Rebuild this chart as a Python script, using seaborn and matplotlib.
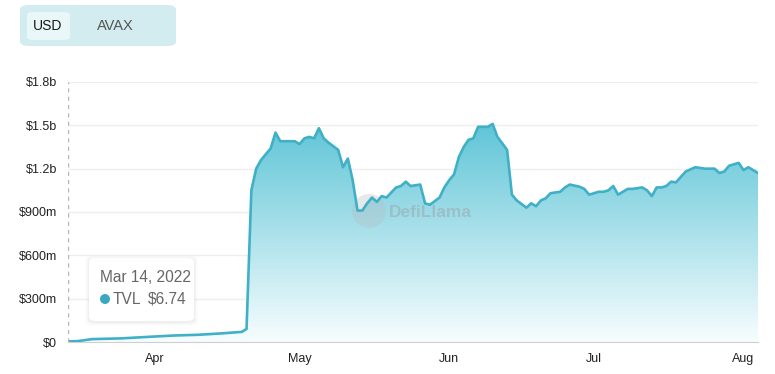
import numpy as np
import pandas as pd
import matplotlib
matplotlib.use("Agg")
import matplotlib.pyplot as plt
import matplotlib.dates as mdates
from matplotlib.patches import FancyBboxPatch, Ellipse
from matplotlib.colors import LinearSegmentedColormap
import seaborn as sns

# ---- data (TVL in billions USD) ----
dates = ["2022-03-14", "2022-03-16", "2022-03-19", "2022-03-25", "2022-04-01", "2022-04-05",
         "2022-04-10", "2022-04-15", "2022-04-19", "2022-04-20", "2022-04-21", "2022-04-22",
         "2022-04-23", "2022-04-25", "2022-04-26", "2022-04-27", "2022-04-30", "2022-05-01",
         "2022-05-02", "2022-05-03", "2022-05-04", "2022-05-05", "2022-05-06", "2022-05-07",
         "2022-05-09", "2022-05-10", "2022-05-11", "2022-05-12", "2022-05-13", "2022-05-14",
         "2022-05-15", "2022-05-16", "2022-05-17", "2022-05-18", "2022-05-19", "2022-05-21",
         "2022-05-22", "2022-05-23", "2022-05-24", "2022-05-26", "2022-05-27", "2022-05-28",
         "2022-05-30", "2022-05-31", "2022-06-01", "2022-06-02", "2022-06-03", "2022-06-04",
         "2022-06-05", "2022-06-06", "2022-06-07", "2022-06-09", "2022-06-10", "2022-06-11",
         "2022-06-13", "2022-06-14", "2022-06-15", "2022-06-17", "2022-06-18", "2022-06-19",
         "2022-06-20", "2022-06-21", "2022-06-22", "2022-06-24", "2022-06-25", "2022-06-26",
         "2022-06-28", "2022-06-29", "2022-06-30", "2022-07-02", "2022-07-03", "2022-07-04",
         "2022-07-05", "2022-07-06", "2022-07-07", "2022-07-08", "2022-07-09", "2022-07-11",
         "2022-07-12", "2022-07-13", "2022-07-14", "2022-07-15", "2022-07-16", "2022-07-17",
         "2022-07-18", "2022-07-20", "2022-07-22", "2022-07-24", "2022-07-25", "2022-07-26",
         "2022-07-27", "2022-07-28", "2022-07-29", "2022-07-31", "2022-08-01", "2022-08-02",
         "2022-08-04"]
tvl = [0.004, 0.006, 0.02, 0.025, 0.038, 0.045,
       0.05, 0.06, 0.07, 0.09, 1.05, 1.20,
       1.26, 1.34, 1.45, 1.39, 1.39, 1.37,
       1.41, 1.42, 1.41, 1.48, 1.41, 1.38,
       1.33, 1.21, 1.27, 1.12, 0.91, 0.91,
       0.96, 1.00, 0.97, 1.01, 1.00, 1.07,
       1.08, 1.11, 1.08, 1.09, 0.96, 0.95,
       1.00, 1.07, 1.12, 1.16, 1.28, 1.35,
       1.40, 1.41, 1.49, 1.49, 1.51, 1.42,
       1.33, 1.02, 0.98, 0.93, 0.96, 0.94,
       0.98, 0.995, 1.03, 1.04, 1.07, 1.09,
       1.075, 1.06, 1.02, 1.04, 1.04, 1.05,
       1.08, 1.02, 1.04, 1.06, 1.06, 1.07,
       1.05, 1.01, 1.07, 1.07, 1.08, 1.11,
       1.105, 1.18, 1.21, 1.20, 1.20, 1.20,
       1.17, 1.18, 1.22, 1.24, 1.19, 1.21,
       1.17]
y_ticks = [0, 0.3, 0.6, 0.9, 1.2, 1.5, 1.8]
y_labels = ["$0", "$300m", "$600m", "$900m", "$1.2b", "$1.5b", "$1.8b"]
x_ticks = ["2022-04-01", "2022-05-01", "2022-06-01", "2022-07-01", "2022-08-01"]
x_labels = ["Apr", "May", "Jun", "Jul", "Aug"]

df = pd.DataFrame({"date": pd.to_datetime(dates), "tvl": tvl})

sns.set_style("white")
plt.rcParams["font.family"] = ["Liberation Sans", "DejaVu Sans"]

W, H = 775, 374
fig = plt.figure(figsize=(W / 100, H / 100), dpi=100)
ax = fig.add_axes([68 / W, 1 - 342 / H, (758 - 68) / W, (342 - 82) / H])

line_c = "#3fb0c6"
sns.lineplot(data=df, x="date", y="tvl", ax=ax, color=line_c, linewidth=1.9, zorder=4)

xs = mdates.date2num(df["date"])
xmin, xmax = xs[0], xs[-1]
poly = ax.fill_between(xs, df["tvl"].values, 0, color="none", linewidth=0)
cmap = LinearSegmentedColormap.from_list("g", ["#f7fdfe", "#5fc5d7"])
grad = np.linspace(0, 1, 256).reshape(-1, 1)
im = ax.imshow(grad, cmap=cmap, aspect="auto", origin="lower",
               extent=[xmin, xmax, 0, max(tvl)], zorder=2)
im.set_clip_path(poly.get_paths()[0], transform=ax.transData)

ax.set_xlim(xmin, xmax)
ax.set_ylim(0, 1.8)
ax.set_yticks(y_ticks)
ax.set_yticklabels(y_labels)
ax.set_xticks(mdates.date2num(pd.to_datetime(x_ticks)))
ax.set_xticklabels(x_labels)
ax.set_xlabel("")
ax.set_ylabel("")
for y in y_ticks[1:]:
    ax.axhline(y, color="#efefef", linewidth=1, zorder=1)
for s in ["top", "right", "left"]:
    ax.spines[s].set_visible(False)
ax.spines["bottom"].set_color("#cfcfcf")
ax.spines["bottom"].set_zorder(5)
ax.tick_params(axis="y", length=0, pad=8, labelsize=9, labelcolor="#222222")
ax.tick_params(axis="x", length=5, width=1, color="#333333", pad=3,
               labelsize=9, labelcolor="#222222", direction="out")
ax.axvline(xmin, color="#b0b5c0", linewidth=1, linestyle=(0, (3, 3)), zorder=6)


def px_circle(cx, cy, r, target, **kw):
    e = Ellipse((cx / W, 1 - cy / H), 2 * r / W, 2 * r / H,
                transform=fig.transFigure, **kw)
    if target is ax:
        e.set_clip_on(False)
        ax.add_artist(e)
    else:
        fig.patches.append(e)


# watermark (behind the line)
ax.text(389 / W, 1 - 212 / H, "DefiLlama", fontsize=12.5, fontweight="bold",
        color="#9aa4aa", alpha=0.5, va="center", ha="left", zorder=3,
        transform=fig.transFigure)
px_circle(369, 211, 17, ax, facecolor="#b8bec2", alpha=0.35, edgecolor="none", zorder=3)

# tooltip with soft shadow
for i, a in enumerate([0.025, 0.018, 0.012, 0.008]):
    sh = FancyBboxPatch(((89 - i - 1) / W, 1 - (322 + i + 1) / H), (105 + 2 * i + 2) / W,
                        (63 + 2 * i + 2) / H,
                        boxstyle="round,pad=0,rounding_size=0.01",
                        transform=fig.transFigure, facecolor="black", alpha=a,
                        edgecolor="none", zorder=9)
    fig.patches.append(sh)
tip = FancyBboxPatch((89 / W, 1 - 321 / H), 105 / W, 63 / H,
                     boxstyle="round,pad=0,rounding_size=0.01",
                     transform=fig.transFigure, facecolor="white",
                     edgecolor="none", zorder=10)
fig.patches.append(tip)
fig.text(100 / W, 1 - 277 / H, "Mar 14, 2022", fontsize=11.2, color="#666666",
         va="center", ha="left", zorder=11)
px_circle(105, 299, 5, fig, facecolor="#3aa8c1", edgecolor="none", zorder=11)
fig.text(113 / W, 1 - 299 / H, "TVL", fontsize=11.2, color="#666666",
         va="center", ha="left", zorder=11)
fig.text(148 / W, 1 - 299 / H, "$6.74", fontsize=11.2, color="#666666",
         va="center", ha="left", zorder=11)

# toggle buttons
outer = FancyBboxPatch((20 / W, 1 - 46 / H), 156 / W, 41 / H,
                       boxstyle="round,pad=0,rounding_size=0.012",
                       transform=fig.transFigure, facecolor="#d3ecf0",
                       edgecolor="none", zorder=1)
fig.patches.append(outer)
inner = FancyBboxPatch((27 / W, 1 - 40 / H), 43 / W, 28 / H,
                       boxstyle="round,pad=0,rounding_size=0.008",
                       transform=fig.transFigure, facecolor="#eaf7f9",
                       edgecolor="none", zorder=2)
fig.patches.append(inner)
fig.text(48 / W, 1 - 26 / H, "USD", fontsize=10, color="#1a1a1a",
         va="center", ha="center", zorder=3)
fig.text(115 / W, 1 - 26 / H, "AVAX", fontsize=10.5, color="#555555",
         va="center", ha="center", zorder=3)

fig.savefig("out.png", dpi=100)
